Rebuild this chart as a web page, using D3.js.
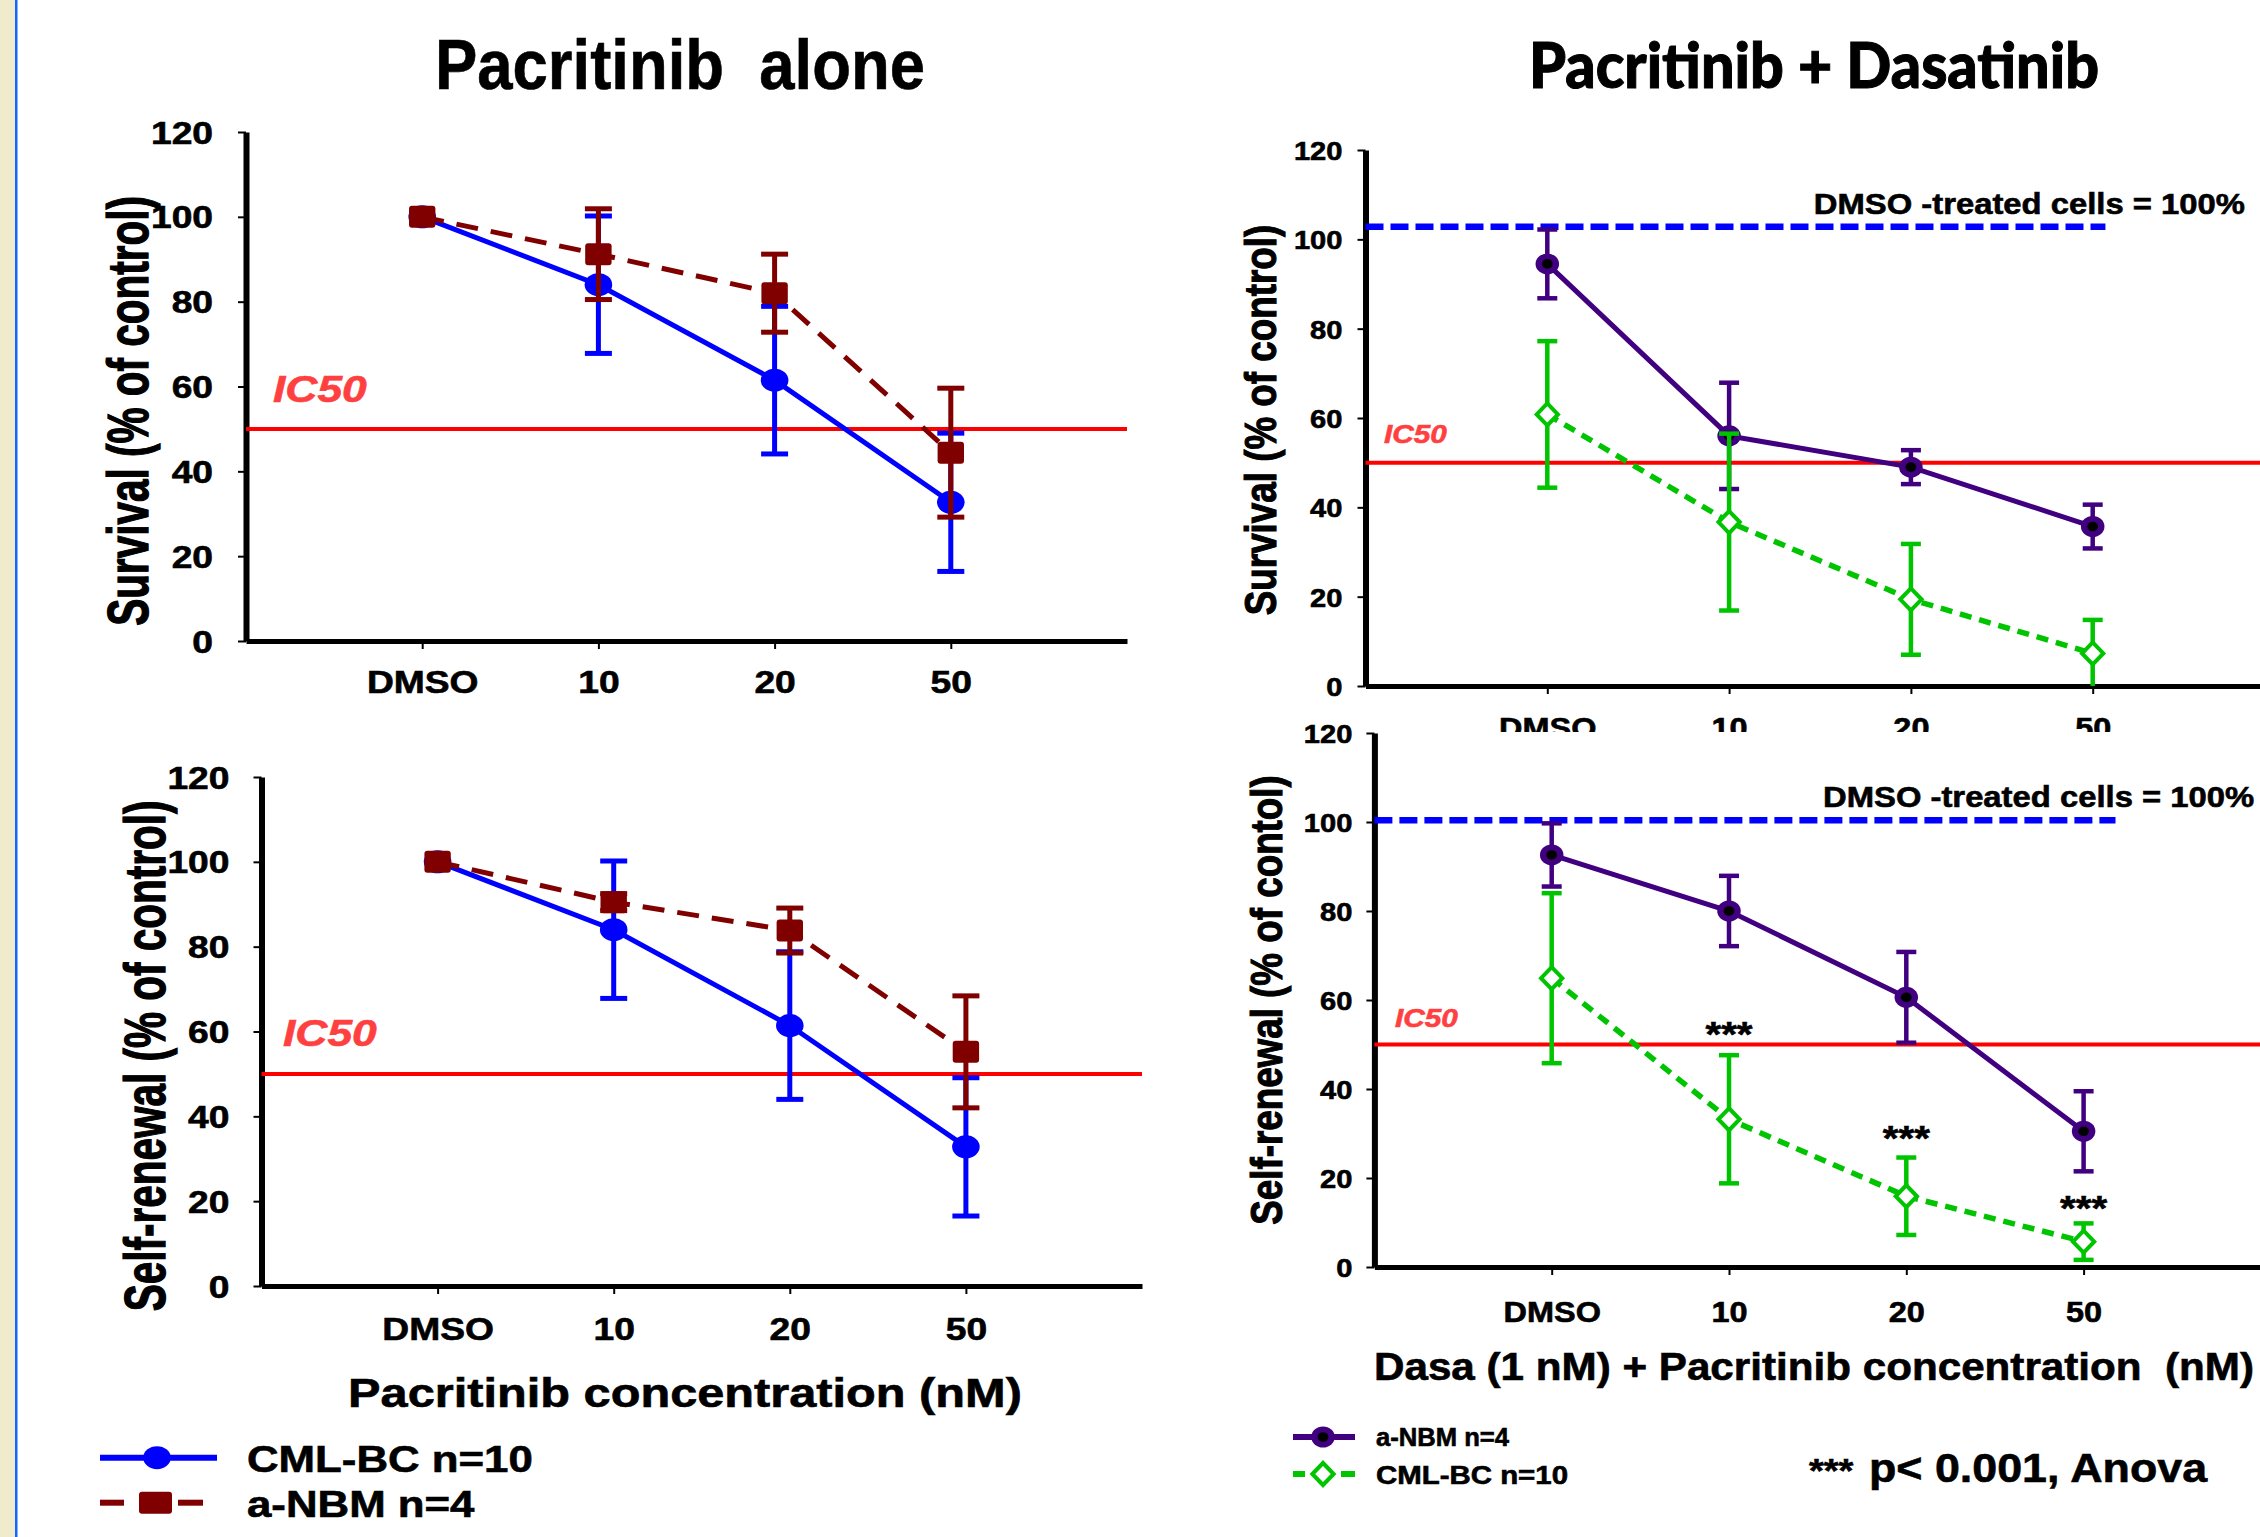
<!DOCTYPE html>
<html>
<head>
<meta charset="utf-8">
<script src="https://cdn.jsdelivr.net/npm/d3@7"></script>
<style>
  body { margin: 0; background: #fff; }
  svg { display: block; }
  text { font-family: "Liberation Sans", Arial, sans-serif; font-weight: bold; stroke: currentColor; stroke-width: 0.6px; }
</style>
</head>
<body>
<svg id="fig" width="2260" height="1537"></svg>
<script>
// ---- data ----
const doses = ["DMSO", "10", "20", "50"];
const yTicks = [0, 20, 40, 60, 80, 100, 120];

// Pacritinib alone, survival
const cmlSurv    = [100, 84, 61.5, 32.7];
const cmlSurvErr = [0, 16.2, 17.4, 16.3];
const nbmSurv    = [100, 91.2, 82, 44.4];
const nbmSurvErr = [0, 10.7, 9.2, 15.2];

// Pacritinib alone, self-renewal
const cmlSelf    = [100, 84, 61.4, 32.8];
const cmlSelfErr = [0, 16.2, 17.4, 16.3];
const nbmSelf    = [100, 90.5, 83.8, 55.2];
const nbmSelfErr = [0, 2, 5.3, 13.2];

// Pacritinib + Dasatinib, survival
const nbmComboSurv    = [94.5, 56, 49, 35.7];
const nbmComboSurvErr = [7.7, 11.9, 3.8, 4.9];
const cmlComboSurv    = [60.8, 36.7, 19.4, 7.3];
const cmlComboSurvErr = [16.4, 19.8, 12.4, 7.5];

// Pacritinib + Dasatinib, self-renewal
const nbmComboSelf    = [92.6, 80, 60.6, 30.5];
const nbmComboSelfErr = [7.1, 7.9, 10.2, 9];
const cmlComboSelf    = [64.9, 33.2, 15.9, 5.7];
const cmlComboSelfErr = [19.1, 14.4, 8.7, 4.1];

const starLevel = [null, 49.6, 26.2, 10.5];   // where the *** sit (y units)
const ic50 = 50;
const dmsoRefSurv = 102.8, dmsoRefSelf = 100.4;
const refEnd = [4.07, 4.18];                  // x units where the blue dashes stop

const BLUE = "#0000ff", MAROON = "#800000", PURPLE = "#400080", GREEN = "#00c400";
const RED = "#ff0000", IC50_TXT = "#ff4040";

const svg = d3.select("#fig");

// left strip
svg.append("rect").attr("x", 0).attr("y", 0).attr("width", 15).attr("height", 1537).attr("fill", "#f0ebcc");
svg.append("rect").attr("x", 15).attr("y", 0).attr("width", 2.5).attr("height", 1537).attr("fill", "#1166ff");

function txt(g, x, y, str, size, sx, anchor) {
  return g.append("text")
    .attr("transform", `translate(${x},${y}) scale(${sx},1)`)
    .attr("text-anchor", anchor || "start")
    .style("font-size", size + "px")
    .text(str);
}

function marker(g, kind, cx, cy, color, sx) {
  if (kind === "circle") {
    g.append("ellipse").attr("cx", cx).attr("cy", cy).attr("rx", 11.5 * sx).attr("ry", 11.5).attr("fill", color);
  } else if (kind === "square") {
    g.append("rect").attr("x", cx - 11 * sx).attr("y", cy - 11).attr("width", 22 * sx).attr("height", 22)
      .attr("rx", 3).attr("fill", color);
  } else if (kind === "ring") {
    g.append("ellipse").attr("cx", cx).attr("cy", cy).attr("rx", 10.5 * sx).attr("ry", 10.5).attr("fill", color);
    g.append("ellipse").attr("cx", cx).attr("cy", cy).attr("rx", 4.8 * sx).attr("ry", 4.8).attr("fill", "#000");
  } else if (kind === "diamond") {
    const h = 11, w = 9.5 * sx;
    g.append("path").attr("d", `M${cx},${cy - h}L${cx + w},${cy}L${cx},${cy + h}L${cx - w},${cy}Z`)
      .attr("fill", "#fff").attr("stroke", color).attr("stroke-width", 4);
  }
}

function drawPanel(p) {
  const g = svg.append("g");
  const x = d3.scaleLinear().domain([0, 5]).range([p.left, p.right]);
  const y = d3.scaleLinear().domain([0, 120]).range([p.bottom, p.top]);

  // axes
  const yAx = g.append("g").attr("transform", `translate(${p.left},0)`)
    .call(d3.axisLeft(y).tickValues(yTicks).tickSize(8).tickSizeOuter(0));
  yAx.select(".domain").attr("stroke-width", 6);
  yAx.selectAll(".tick line").attr("stroke-width", 2);
  yAx.selectAll(".tick text")
    .attr("x", -p.yGap / p.sx).attr("dy", "0.36em")
    .attr("transform", `scale(${p.sx},1)`)
    .style("font-size", p.tickFont + "px").attr("fill", "#000").style("color", "#000");

  const xAx = g.append("g").attr("transform", `translate(0,${p.bottom})`)
    .call(d3.axisBottom(x).tickValues([1, 2, 3, 4]).tickFormat(d => doses[d - 1]).tickSize(8).tickSizeOuter(0));
  xAx.select(".domain").attr("stroke-width", 5);
  xAx.selectAll(".tick line").attr("stroke-width", 2);
  xAx.selectAll(".tick text")
    .attr("y", p.xLabelBase - p.bottom).attr("dy", null)
    .attr("transform", `scale(${p.sx},1)`)
    .style("font-size", p.xFont + "px").attr("fill", "#000").style("color", "#000");

  // y title
  g.append("text")
    .attr("transform", `translate(${p.yTitleX},${p.yTitleY}) scale(${p.yTitleSx},1) rotate(-90)`)
    .attr("text-anchor", "middle").attr("dy", "0.36em")
    .style("font-size", p.yTitleFont + "px").style("stroke-width", "0.9px")
    .text(p.yTitle);

  // IC50
  g.append("line").attr("x1", x(0)).attr("x2", x(5)).attr("y1", y(ic50)).attr("y2", y(ic50))
    .attr("stroke", RED).attr("stroke-width", 4);
  txt(g, p.icX, p.icY, "IC50", p.icFont, p.sx).attr("fill", IC50_TXT).style("color", IC50_TXT)
    .style("font-style", "italic");

  // DMSO reference
  if (p.ref != null) {
    g.append("line").attr("x1", x(0)).attr("x2", x(p.refEnd)).attr("y1", y(p.ref)).attr("y2", y(p.ref))
      .attr("stroke", BLUE).attr("stroke-width", 6.5).attr("stroke-dasharray", "18,7");
    txt(g, p.refTxtX, p.refTxtY, "DMSO -treated cells = 100%", 29.3, p.sx, p.refAnchor);
  }

  const line = d3.line().x((d, i) => x(i + 1)).y(d => y(d));
  p.series.forEach(s => {
    g.append("path").datum(s.values).attr("d", line)
      .attr("fill", "none").attr("stroke", s.color).attr("stroke-width", s.width)
      .attr("stroke-dasharray", s.dash || null);
    s.values.forEach((v, i) => {
      const e = s.err[i];
      if (e > 0) {
        const lo = Math.max(0, v - e), hi = v + e, cx = x(i + 1);
        g.append("line").attr("x1", cx).attr("x2", cx).attr("y1", y(lo)).attr("y2", y(hi))
          .attr("stroke", s.color).attr("stroke-width", s.errW);
        [lo, hi].forEach(t => {
          if (t <= 0) return;
          g.append("line").attr("x1", cx - s.cap).attr("x2", cx + s.cap).attr("y1", y(t)).attr("y2", y(t))
            .attr("stroke", s.color).attr("stroke-width", s.errW);
        });
      }
    });
    s.values.forEach((v, i) => marker(g, s.marker, x(i + 1), y(v), s.color, p.sx));
  });

  if (p.stars) {
    p.stars.forEach((v, i) => {
      if (v == null) return;
      txt(g, x(i + 1), y(v), "***", 36, p.sx, "middle");
    });
  }
  return g;
}

const leftSx = 1.2, rightSx = 1.12;

// titles
svg.append("text").attr("x", 435).attr("y", 89)
  .attr("textLength", 490).attr("lengthAdjust", "spacingAndGlyphs")
  .style("font-size", "70px").style("white-space", "pre")
  .text("Pacritinib  alone");
svg.append("text").attr("x", 1529).attr("y", 88)
  .attr("textLength", 570).attr("lengthAdjust", "spacingAndGlyphs")
  .style("font-family", "Lato, 'Open Sans', sans-serif").style("font-weight", 900)
  .style("stroke-width", "1px")
  .style("font-size", "62px")
  .text("Pacritinib + Dasatinib");

// top-left
drawPanel({
  left: 246, right: 1127, top: 132, bottom: 641, sx: leftSx,
  yGap: 33, tickFont: 31, xFont: 31, xLabelBase: 693,
  yTitle: "Survival (% of control)", yTitleX: 128, yTitleY: 411, yTitleFont: 40.5, yTitleSx: 1.4,
  icX: 273, icY: 402, icFont: 37,
  series: [
    { values: cmlSurv, err: cmlSurvErr, color: BLUE, width: 5, errW: 5, cap: 13.5, marker: "circle" },
    { values: nbmSurv, err: nbmSurvErr, color: MAROON, width: 5, errW: 5, cap: 13.5, marker: "square", dash: "22,13" }
  ]
});

// bottom-left
drawPanel({
  left: 261.5, right: 1142, top: 777, bottom: 1286, sx: leftSx,
  yGap: 32, tickFont: 31, xFont: 31, xLabelBase: 1340,
  yTitle: "Self-renewal (% of control)", yTitleX: 145, yTitleY: 1056, yTitleFont: 40.5, yTitleSx: 1.4,
  icX: 283, icY: 1046, icFont: 37,
  series: [
    { values: cmlSelf, err: cmlSelfErr, color: BLUE, width: 5, errW: 5, cap: 13.5, marker: "circle" },
    { values: nbmSelf, err: nbmSelfErr, color: MAROON, width: 5, errW: 5, cap: 13.5, marker: "square", dash: "22,13" }
  ]
});
txt(svg, 685, 1407, "Pacritinib concentration (nM)", 40.6, leftSx, "middle");

// top-right
drawPanel({
  left: 1365.5, right: 1365.5 + 5 * 181.8, top: 150, bottom: 686, sx: rightSx,
  yGap: 23, tickFont: 26, xFont: 29, xLabelBase: 738,
  yTitle: "Survival (% of control)", yTitleX: 1260, yTitleY: 420, yTitleFont: 36.8, yTitleSx: 1.22,
  icX: 1384, icY: 443, icFont: 26.6,
  ref: dmsoRefSurv, refEnd: refEnd[0], refTxtX: 2245, refTxtY: 214, refAnchor: "end",
  series: [
    { values: nbmComboSurv, err: nbmComboSurvErr, color: PURPLE, width: 5, errW: 4.5, cap: 10, marker: "ring" },
    { values: cmlComboSurv, err: cmlComboSurvErr, color: GREEN, width: 5.5, errW: 4.5, cap: 10, marker: "diamond", dash: "12,8" }
  ]
});

// bottom-right sits over the top-right tick labels
svg.append("rect").attr("x", 1370).attr("y", 732).attr("width", 890).attr("height", 805).attr("fill", "#fff");
drawPanel({
  left: 1374.4, right: 1374.4 + 5 * 177.3, top: 733, bottom: 1267, sx: rightSx,
  yGap: 22, tickFont: 26, xFont: 29, xLabelBase: 1322,
  yTitle: "Self-renewal (% of contol)", yTitleX: 1266, yTitleY: 1000, yTitleFont: 36.8, yTitleSx: 1.22,
  icX: 1395, icY: 1027, icFont: 26.6,
  ref: dmsoRefSelf, refEnd: refEnd[1], refTxtX: 1823, refTxtY: 807, refAnchor: "start",
  stars: starLevel,
  series: [
    { values: nbmComboSelf, err: nbmComboSelfErr, color: PURPLE, width: 5, errW: 4.5, cap: 10, marker: "ring" },
    { values: cmlComboSelf, err: cmlComboSelfErr, color: GREEN, width: 5.5, errW: 4.5, cap: 10, marker: "diamond", dash: "12,8" }
  ]
});
svg.append("text").attr("x", 1374).attr("y", 1380)
  .attr("textLength", 880).attr("lengthAdjust", "spacingAndGlyphs")
  .style("font-size", "38px").style("white-space", "pre")
  .text("Dasa (1 nM) + Pacritinib concentration  (nM)");

// left legend
const lg = svg.append("g");
lg.append("line").attr("x1", 100).attr("x2", 217).attr("y1", 1457.7).attr("y2", 1457.7).attr("stroke", BLUE).attr("stroke-width", 6);
marker(lg, "circle", 157, 1457.7, BLUE, leftSx);
txt(lg, 247, 1472, "CML-BC n=10", 36.5, leftSx);
lg.append("line").attr("x1", 100).attr("x2", 124).attr("y1", 1502.7).attr("y2", 1502.7).attr("stroke", MAROON).attr("stroke-width", 6);
lg.append("line").attr("x1", 178).attr("x2", 203).attr("y1", 1502.7).attr("y2", 1502.7).attr("stroke", MAROON).attr("stroke-width", 6);
marker(lg, "square", 155.5, 1502.7, MAROON, 1.5);
txt(lg, 247, 1517, "a-NBM n=4", 36.5, leftSx);

// right legend
const rg = svg.append("g");
rg.append("line").attr("x1", 1293).attr("x2", 1355).attr("y1", 1437).attr("y2", 1437).attr("stroke", PURPLE).attr("stroke-width", 6);
marker(rg, "ring", 1323, 1437, PURPLE, rightSx);
rg.append("text").attr("x", 1376).attr("y", 1446).attr("textLength", 133).attr("lengthAdjust", "spacingAndGlyphs")
  .style("font-size", "25px").text("a-NBM n=4");
rg.append("line").attr("x1", 1293).attr("x2", 1305).attr("y1", 1474).attr("y2", 1474).attr("stroke", GREEN).attr("stroke-width", 6);
rg.append("line").attr("x1", 1341).attr("x2", 1355).attr("y1", 1474).attr("y2", 1474).attr("stroke", GREEN).attr("stroke-width", 6);
marker(rg, "diamond", 1323, 1474, GREEN, rightSx);
rg.append("text").attr("x", 1376).attr("y", 1484).attr("textLength", 192).attr("lengthAdjust", "spacingAndGlyphs")
  .style("font-size", "25px").text("CML-BC n=10");

txt(svg, 1809, 1482, "***", 34, rightSx);
txt(svg, 1869, 1482, "p< 0.001, Anova", 40, rightSx);
</script>
</body>
</html>
